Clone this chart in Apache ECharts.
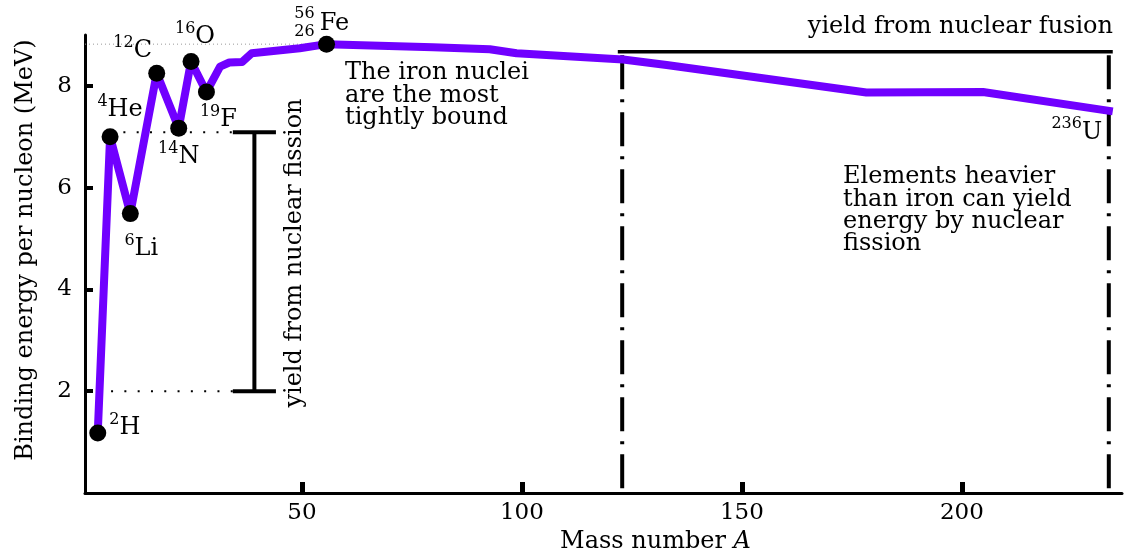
<!DOCTYPE html>
<html>
<head>
<meta charset="utf-8">
<script src="https://cdn.jsdelivr.net/npm/echarts@6/dist/echarts.min.js"></script>
<style>
html, body { margin: 0; padding: 0; background: #fff; }
#chart { width: 1124px; height: 558px; }
</style>
</head>
<body>
<div id="chart"></div>
<script>
// binding energy per nucleon
var curveA = [3.6, 6.4, 11.0, 17.0, 22.0, 24.8, 28.3, 31.4, 33.5, 36.4, 38.6, 49.5, 55.6, 79.8, 92.7, 98.8, 123.0, 132.9, 178.3, 204.8, 234.3];
var curveE = [1.18, 7.00, 5.49, 8.25, 7.17, 8.48, 7.88, 8.38, 8.46, 8.47, 8.64, 8.74, 8.82, 8.76, 8.72, 8.64, 8.52, 8.41, 7.87, 7.88, 7.50];

// marked nuclides
var nuclideSymbol = ['H', 'He', 'Li', 'C', 'N', 'O', 'F', 'Fe'];
var nuclideMass = ['2', '4', '6', '12', '14', '16', '19', '56'];
var nuclideA = [3.6, 6.4, 11.0, 17.0, 22.0, 24.8, 28.3, 55.6];
var nuclideE = [1.18, 7.00, 5.49, 8.25, 7.17, 8.48, 7.88, 8.82];

var xTicks = [50, 100, 150, 200];
var yTicks = [2, 4, 6, 8];

// fission / fusion guides
var fissionLow = 2.0;
var fissionHigh = 7.09;
var fissionBarA = 39.2;
var fissionCapA = [34.3, 44.1];
var fusionE = 8.67;
var fusionA = [121.8, 234.3];
var splitA = [122.8, 233.4];
var splitTopE = 8.6;
var ironE = 8.82;

var xMin = 0.7, xMax = 236.4;
var FONT = '"DejaVu Serif"';
var PURPLE = '#7000ff';

// pixel offsets of the nuclide labels from their dots
var labelOffset = {
  H: [27, -7], He: [10, -29], Li: [11, 33], C: [-24, -24], N: [0, 27],
  O: [4, -27], F: [12, 26], Fe: [-22, -21]
};

var rich = {
  m: { fontFamily: FONT, fontSize: 16, lineHeight: 16, verticalAlign: 'top', color: '#000' },
  s: { fontFamily: FONT, fontSize: 24, lineHeight: 28, verticalAlign: 'bottom', color: '#000' },
  n: { fontFamily: FONT, fontSize: 16, lineHeight: 18, color: '#000' }
};

function seg(points, style) {
  return {
    type: 'line', data: points, symbol: 'none', silent: true, z: 1,
    lineStyle: Object.assign({ color: '#000', cap: 'butt' }, style)
  };
}

var curveData = curveA.map(function (a, i) { return [a, curveE[i]]; });
var last = curveData.length - 1;

var dotData = nuclideA.map(function (a, i) {
  var sym = nuclideSymbol[i];
  var text = sym === 'Fe'
    ? '{n|' + nuclideMass[i] + '}\n{n|26}'
    : '{m|' + nuclideMass[i] + '}{s|' + sym + '}';
  return {
    value: [a, nuclideE[i]],
    label: { show: true, position: 'inside', offset: labelOffset[sym], formatter: text, rich: rich }
  };
});

var ironIdx = nuclideSymbol.indexOf('Fe');

// extra tags: "Fe" beside its mass/charge numbers, and 236U at the curve's end
var tagData = [
  {
    value: [nuclideA[ironIdx], nuclideE[ironIdx]],
    label: { offset: [8, -22], formatter: '{s|' + nuclideSymbol[ironIdx] + '}' }
  },
  {
    value: curveData[last],
    label: { offset: [-36, 19], formatter: '{m|236}{s|U}' }
  }
];

var chart = echarts.init(document.getElementById('chart'));
chart.setOption({
  animation: false,
  backgroundColor: '#fff',
  grid: { left: 85, right: 2, top: 35, bottom: 65, outerBoundsMode: 'none' },
  xAxis: {
    type: 'value', min: xMin, max: xMax,
    name: 'Mass number {i|A}', nameLocation: 'middle', nameGap: 36,
    nameTextStyle: {
      fontFamily: FONT, fontSize: 24, color: '#000', padding: [0, 0, 0, 104],
      rich: { i: { fontFamily: FONT, fontSize: 24, fontStyle: 'italic', color: '#000' } }
    },
    splitLine: { show: false },
    axisLine: { lineStyle: { color: '#000', width: 3 } },
    axisTick: { inside: true, length: 11, customValues: xTicks, lineStyle: { color: '#000', width: 5 } },
    axisLabel: { customValues: xTicks, fontFamily: FONT, fontSize: 23, color: '#000', margin: 9 }
  },
  yAxis: {
    type: 'value', min: 0, max: 9,
    name: 'Binding energy per nucleon (MeV)', nameLocation: 'middle', nameGap: 47,
    nameTextStyle: { fontFamily: FONT, fontSize: 24, color: '#000', padding: [0, 0, 0, 28] },
    splitLine: { show: false },
    axisLine: { lineStyle: { color: '#000', width: 3 } },
    axisTick: { inside: true, length: 8, customValues: yTicks, lineStyle: { color: '#000', width: 4 } },
    axisLabel: { customValues: yTicks, fontFamily: FONT, fontSize: 23, color: '#000', margin: 13 }
  },
  series: [
    seg([[xMin, ironE], [nuclideA[ironIdx], ironE]], { color: '#999', width: 1, type: [1, 3] }),
    seg([[nuclideA[1], fissionHigh], [fissionCapA[0], fissionHigh]], { width: 2, type: [2, 11.3] }),
    seg([[nuclideA[0], fissionLow], [fissionCapA[0], fissionLow]], { width: 2, type: [2, 11.3] }),
    seg([[fissionCapA[0], fissionHigh], [fissionCapA[1], fissionHigh]], { width: 4 }),
    seg([[fissionCapA[0], fissionLow], [fissionCapA[1], fissionLow]], { width: 4 }),
    seg([[fissionBarA, fissionHigh], [fissionBarA, fissionLow]], { width: 4 }),
    seg([[fusionA[0], fusionE], [fusionA[1], fusionE]], { width: 3.5 }),
    seg([[splitA[0], splitTopE], [splitA[0], 0]], { width: 4, type: [34, 10, 3, 10] }),
    seg([[splitA[1], splitTopE], [splitA[1], 0]], { width: 4, type: [34, 10, 3, 10] }),
    {
      type: 'line', name: 'binding', data: curveData, symbol: 'none', z: 3, silent: true,
      lineStyle: { color: PURPLE, width: 8, join: 'round' }
    },
    {
      type: 'scatter', data: dotData, symbolSize: 17, z: 5, silent: true,
      itemStyle: { color: '#000', opacity: 1 }
    },
    {
      type: 'scatter', data: tagData, symbolSize: 0, z: 5, silent: true,
      itemStyle: { color: '#000', opacity: 1 },
      label: { show: true, position: 'inside', color: '#000', opacity: 1, rich: rich }
    }
  ],
  graphic: [
    {
      type: 'text', left: 345, top: 61,
      style: { text: 'The iron nuclei\nare the most\ntightly bound', font: '24px ' + FONT, lineHeight: 22.5, fill: '#000' }
    },
    {
      type: 'text', left: 843, top: 165,
      style: { text: 'Elements heavier\nthan iron can yield\nenergy by nuclear\nfission', font: '24px ' + FONT, lineHeight: 22.3, fill: '#000' }
    },
    {
      type: 'text', right: 11, top: 15,
      style: { text: 'yield from nuclear fusion', font: '24px ' + FONT, fill: '#000' }
    },
    {
      type: 'text', x: 295, y: 253, rotation: Math.PI / 2,
      style: { text: 'yield from nuclear fission', font: '24px ' + FONT, fill: '#000', align: 'center', verticalAlign: 'middle' }
    }
  ]
});
</script>
</body>
</html>
